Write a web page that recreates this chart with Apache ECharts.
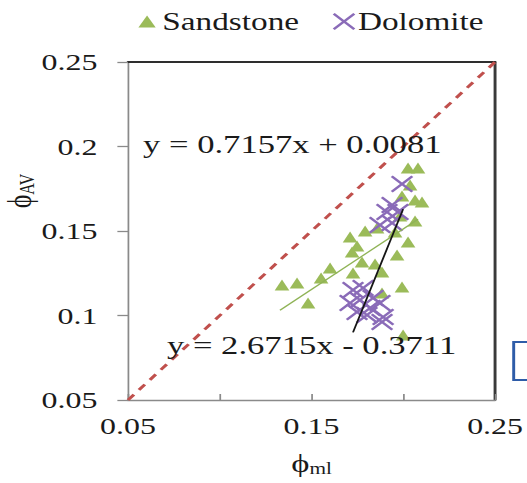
<!DOCTYPE html>
<html>
<head>
<meta charset="utf-8">
<script src="https://cdn.jsdelivr.net/npm/echarts@6/dist/echarts.min.js"></script>
<style>
  html, body { margin: 0; padding: 0; background: #fff; overflow: hidden; }
  /* chart is laid out on a narrower canvas, then widened to the page */
  #chart { width: 396px; height: 483px; transform: scaleX(1.3308); transform-origin: 0 0; }
</style>
</head>
<body>
<div id="chart"></div>
<script>
// Porosity pairs (phi_ml, phi_AV) for each rock type
const sandstoneX = [0.1339, 0.1421, 0.1481, 0.1552, 0.1601, 0.1721, 0.1726, 0.1710, 0.1748, 0.1792,
                    0.1857, 0.1775, 0.1846, 0.1884, 0.1884, 0.1966, 0.1993, 0.2026, 0.2064, 0.1982,
                    0.1993, 0.2064, 0.2102, 0.2026, 0.2080, 0.1999, 0.2037, 0.1955];
const sandstoneY = [0.1180, 0.1192, 0.1074, 0.1222, 0.1281, 0.1376, 0.1251, 0.1464, 0.1411, 0.1500,
                    0.1518, 0.1317, 0.1305, 0.1257, 0.1133, 0.1358, 0.1169, 0.1435, 0.1559, 0.1589,
                    0.1707, 0.1683, 0.1672, 0.1873, 0.1873, 0.0885, 0.1772, 0.1494];
const dolomiteX = [0.1993, 0.1939, 0.1911, 0.1971, 0.1873, 0.1939, 0.1726, 0.1781, 0.1710,
                   0.1764, 0.1835, 0.1873, 0.1819, 0.1748, 0.1890, 0.1802, 0.1884];
const dolomiteY = [0.1778, 0.1654, 0.1612, 0.1612, 0.1536, 0.1547, 0.1151, 0.1163, 0.1074,
                   0.1092, 0.1104, 0.1074, 0.1044, 0.1021, 0.0991, 0.1003, 0.0962];

// Linear fits: slope, intercept and the x span each fit line covers
const sandFit = [0.7157, 0.0081];
const sandFitRange = [0.1328, 0.208];
const doloFit = [2.6715, -0.3711];
const doloFitRange = [0.1726, 0.1999];

// 1:1 reference line
const identityRange = [0.05, 0.25];

// Axis ticks
const xTickLabels = ['0.05', '0.15', '0.25'];
const yTickLabels = ['0.05', '0.1', '0.15', '0.2', '0.25'];
const axisMin = 0.05, axisMax = 0.25, axisStep = 0.05;

const seriesNames = ['Sandstone', 'Dolomite'];

const FONT = 'Liberation Serif';
const INK = '#1a1a1a';
const GREEN = '#9BBB59';
const PURPLE = '#8a6bb8';
const CROSS = 'path://M0,0.9L0.9,0L5,4.1L9.1,0L10,0.9L5.9,5L10,9.1L9.1,10L5,5.9L0.9,10L0,9.1L4.1,5Z';

const pairs = (xs, ys) => xs.map((x, i) => [x, ys[i]]);
const fitLine = (fit, range) => range.map(x => [x, fit[0] * x + fit[1]]);
const fmt = (n) => String(+n.toFixed(2));

const chart = echarts.init(document.getElementById('chart'), null, { renderer: 'svg' });

const tickLabel = (list) => (v) => (list.indexOf(fmt(v)) >= 0 ? fmt(v) : '');

const option = {
  animation: false,
  backgroundColor: '#fff',
  grid: { left: 96.2, right: 24, top: 62, bottom: 83 },
  legend: [
    {
      data: [seriesNames[0]], left: 99, top: 4, itemWidth: 13, itemHeight: 12, itemGap: 0,
      textStyle: { fontFamily: FONT, fontSize: 25, color: INK }
    },
    {
      data: [seriesNames[1]], left: 245, top: 4, itemWidth: 17, itemHeight: 17, itemGap: 0,
      textStyle: { fontFamily: FONT, fontSize: 25, color: INK, padding: [0, 0, 0, -3] }
    }
  ],
  xAxis: [
    {
      type: 'value', min: axisMin, max: axisMax, interval: axisStep,
      name: '{p|\u03D5}{s|ml}', nameLocation: 'middle', nameGap: 50,
      nameTextStyle: {
        rich: {
          p: { fontFamily: FONT, fontSize: 26, color: INK },
          s: { fontFamily: FONT, fontSize: 16, color: INK, padding: [10, 0, 0, 0] }
        }
      },
      axisLine: { onZero: false, lineStyle: { color: '#8a8a8a', width: 1.3 } },
      axisTick: { inside: true, length: 6, lineStyle: { color: '#8a8a8a', width: 1.3 } },
      axisLabel: { margin: 14, fontFamily: FONT, fontSize: 24, color: INK,
                   showMinLabel: true, showMaxLabel: true, formatter: tickLabel(xTickLabels) },
      splitLine: { show: false }
    },
    {
      type: 'value', position: 'top', min: axisMin, max: axisMax,
      axisLine: { onZero: false, lineStyle: { color: '#2e2e2e', width: 2 } },
      axisTick: { show: false }, axisLabel: { show: false }, splitLine: { show: false }
    }
  ],
  yAxis: [
    {
      type: 'value', min: axisMin, max: axisMax, interval: axisStep,
      axisLine: { onZero: false, lineStyle: { color: '#8a8a8a', width: 1.3 } },
      axisTick: { inside: false, length: 8, lineStyle: { color: '#8a8a8a', width: 1.3 } },
      axisLabel: { margin: 23, fontFamily: FONT, fontSize: 24, color: INK,
                   showMinLabel: true, showMaxLabel: true, formatter: tickLabel(yTickLabels) },
      splitLine: { show: false }
    },
    {
      type: 'value', position: 'right', min: axisMin, max: axisMax,
      axisLine: { onZero: false, lineStyle: { color: '#3a3a3a', width: 2.2 } },
      axisTick: { show: false }, axisLabel: { show: false }, splitLine: { show: false }
    }
  ],
  series: [
    {
      name: 'identity', type: 'line', data: identityRange.map(v => [v, v]),
      symbol: 'none', silent: true, z: 1,
      lineStyle: { color: '#C0504D', width: 2.6, type: [7, 6] }
    },
    {
      name: seriesNames[0], type: 'scatter', data: pairs(sandstoneX, sandstoneY),
      symbol: 'triangle', symbolSize: [11, 11], z: 2,
      itemStyle: { color: GREEN, opacity: 1 }
    },
    {
      name: seriesNames[1], type: 'scatter', data: pairs(dolomiteX, dolomiteY),
      symbol: CROSS, symbolSize: 17, z: 3,
      itemStyle: { color: PURPLE, opacity: 1 }
    },
    {
      name: 'sandFit', type: 'line', data: fitLine(sandFit, sandFitRange),
      symbol: 'none', silent: true, z: 4,
      lineStyle: { color: '#8fb356', width: 1.2 }
    },
    {
      name: 'doloFit', type: 'line', data: fitLine(doloFit, doloFitRange),
      symbol: 'none', silent: true, z: 5,
      lineStyle: { color: '#151515', width: 1.4 }
    }
  ],
  graphic: [
    {
      type: 'text', x: 107.5, y: 145, z: 10,
      style: { text: 'y = 0.7157x + 0.0081', fontFamily: FONT, fontSize: 26, fill: INK, verticalAlign: 'middle' }
    },
    {
      type: 'text', x: 125.5, y: 346, z: 10,
      style: { text: 'y = 2.6715x - 0.3711', fontFamily: FONT, fontSize: 26, fill: INK, verticalAlign: 'middle' }
    },
    {
      type: 'text', x: 15, y: 191, rotation: Math.PI / 2, z: 10,
      style: {
        text: '{p|\u03D5}{s|AV}', align: 'center', verticalAlign: 'middle',
        rich: {
          p: { fontFamily: FONT, fontSize: 26, fill: INK },
          s: { fontFamily: FONT, fontSize: 16, fill: INK, padding: [10, 0, 0, 0] }
        }
      }
    },
    {
      type: 'rect', z: 10,
      shape: { x: 386, y: 342, width: 30, height: 38 },
      style: { fill: '#fff', stroke: '#2E5CA8', lineWidth: 2.2 }
    }
  ]
};

chart.setOption(option);
</script>
</body>
</html>
